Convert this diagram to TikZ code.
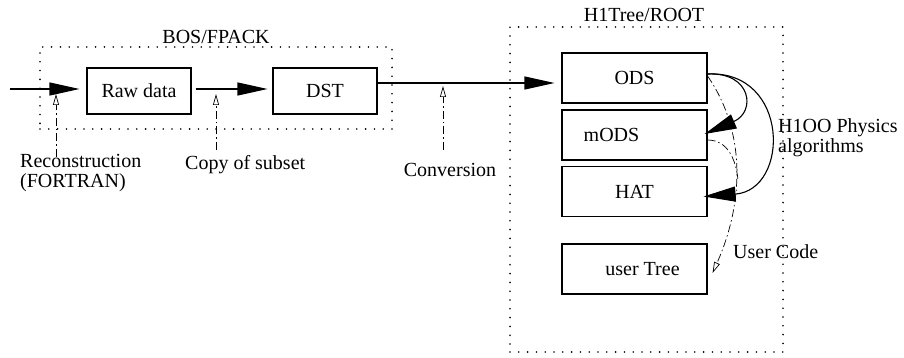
\documentclass[tikz,border=0pt]{standalone}
\usepackage{fontspec}
\setmainfont{Liberation Serif}
\usetikzlibrary{arrows.meta}
\begin{document}
\begin{tikzpicture}[x=1pt,y=-1pt,
  every node/.style={font=\fontsize{20}{20}\selectfont, inner sep=0pt},
  box/.style={draw, line width=1.1pt, minimum width=104pt, minimum height=46pt},
  tbox/.style={draw, line width=1.1pt, minimum width=145pt, minimum height=50pt},
  grp/.style={draw, line width=1.8pt, line cap=round, dash pattern=on 0pt off 8.8pt},
  flow/.style={line width=1.1pt, -{Triangle[length=30pt,width=13pt]}},
  alg/.style={line width=1.1pt, -{Triangle[length=32pt,width=15pt]}},
  note/.style={line width=0.7pt, dash pattern=on 8pt off 3pt on 1.5pt off 3pt, -{Triangle[open,length=11pt,width=6pt]}},
  dd/.style={line width=0.7pt, dash pattern=on 8pt off 3pt on 1.5pt off 3pt}
]
\useasboundingbox (0,0) rectangle (904,358);
% groups
\node[grp, minimum width=352pt, minimum height=82pt] (bos) at (216,88) {};
\node (bost) at (216,37) {BOS/FPACK};
\node[grp, minimum width=273pt, minimum height=325pt] (h1) at (646.5,189.5) {};
\node (h1t) at (644,15) {H1Tree/ROOT};
% boxes
\node[box] (raw) at (139,91) {Raw data};
\node[box] (dst) at (325,91) {DST};
\node[tbox] (ods) at (634.5,78) {ODS};
\node[tbox] (mods) at (634.5,135) {mODS\hspace*{46pt}};
\node[tbox] (hat) at (634.5,191.5) {HAT};
\node[tbox] (utree) at (634.5,269) {\hspace*{16pt}user Tree};
% main flow
\coordinate (in) at (10,89);
\draw[flow, shorten >=7pt] (in) -- (in -| raw.west);
\draw[flow, shorten <=4pt, shorten >=5pt] ([yshift=2pt]raw.east) -- ([yshift=2pt]raw.east -| dst.west);
\draw[flow, shorten >=7pt] ([yshift=8pt]dst.east) -- ([yshift=8pt]dst.east -| ods.west);
% labels
\node[anchor=west, align=left] (rec) at (20,173.5) {Reconstruction\\(FORTRAN)};
\node[anchor=west] (cop) at (185,165) {Copy of subset};
\node (conv) at (450,170) {Conversion};
\node[anchor=west, align=left] (phys) at (778,138) {H1OO Physics\\algorithms};
\node[anchor=west] (uc) at (733,252) {User Code};
% annotation arrows
\coordinate (r0) at (56,157); \coordinate (r1) at (56,94);
\coordinate (c0) at (216,150); \coordinate (c1) at (216,94);
\coordinate (v0) at (443,150); \coordinate (v1) at (443,86);
\draw[note] (r0) -- (r1);
\draw[note] (c0) -- (c1);
\draw[note] (v0) -- (v1);
% physics algorithm arrows
\draw[alg] ([yshift=4pt]ods.east) .. controls (752,72) and (756,112) .. ([xshift=-3pt,yshift=1pt]mods.east);
\draw[alg] ([yshift=4pt]ods.east) .. controls (790,70) and (790,190) .. ([xshift=-4pt,yshift=-5pt]hat.east);
% user code
\draw[note] ([yshift=2pt]ods.east) .. controls (745,130) and (745,200) .. ([xshift=5pt,yshift=-4pt]utree.east);
\draw[dd] ([yshift=-5pt]mods.east) .. controls (728,140) and (736,160) .. (738,180);
\end{tikzpicture}
\end{document}
